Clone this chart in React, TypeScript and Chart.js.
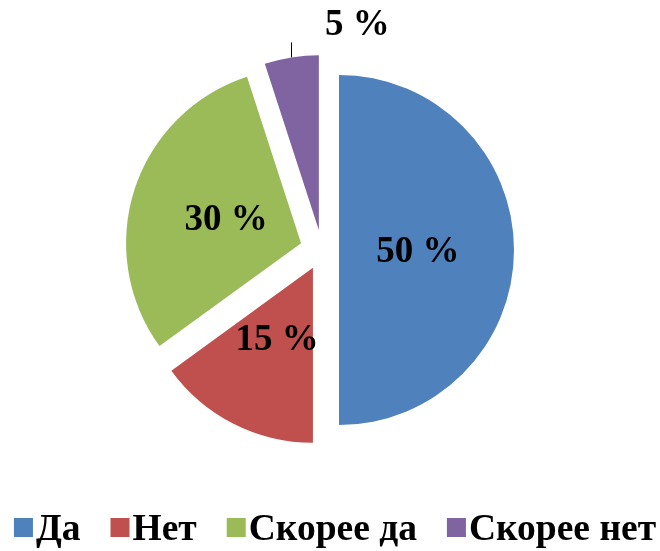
import React, { useEffect, useRef } from 'react';
import { Chart, registerables, PieController, ArcElement } from 'chart.js';

Chart.register(...registerables);

const categories = ['Да', 'Нет', 'Скорее да', 'Скорее нет'];
const values = [50, 15, 30, 5];
const valueLabels = ['50 %', '15 %', '30 %', '5 %'];
const colors = ['#4F81BD', '#C0504D', '#9BBB59', '#8064A2'];
const explode = [17, 20, 22, 20];

const FONT = '"Liberation Serif", "Times New Roman", serif';

class ExplodedArc extends ArcElement {
  static id = 'explodedArc';
  draw(ctx: CanvasRenderingContext2D) {
    const self: any = this;
    const opts = self.options;
    const d = (opts && opts.offset) || 0;
    const half = (self.startAngle + self.endAngle) / 2;
    ctx.save();
    ctx.translate(Math.cos(half) * d, Math.sin(half) * d);
    self.options = Object.assign({}, opts, { offset: 0 });
    super.draw(ctx);
    self.options = opts;
    ctx.restore();
  }
}

class ExplodedPieController extends PieController {
  static id = 'explodedPie';
  static defaults = { dataElementType: 'explodedArc' };
}

Chart.register(ExplodedArc as any, ExplodedPieController as any);

const labelPlugin = {
  id: 'sliceLabels',
  afterDatasetsDraw(chart: any) {
    const ctx = chart.ctx;
    const meta = chart.getDatasetMeta(0);
    ctx.save();
    ctx.font = `bold 37px ${FONT}`;
    ctx.fillStyle = '#000';
    ctx.textAlign = 'center';
    ctx.textBaseline = 'middle';
    meta.data.forEach((arc: any, i: number) => {
      const p = arc.getProps(['x', 'y', 'startAngle', 'endAngle', 'outerRadius'], true);
      const half = (p.startAngle + p.endAngle) / 2;
      const cx = Math.cos(half), cy = Math.sin(half);
      const d = explode[i];
      const vx = p.x + cx * d, vy = p.y + cy * d;
      if (values[i] < 10) {
        const mx = vx + cx * p.outerRadius, my = vy + cy * p.outerRadius;
        ctx.strokeStyle = '#000';
        ctx.lineWidth = 1;
        ctx.beginPath();
        ctx.moveTo(Math.round(mx) + 0.5, my);
        ctx.lineTo(Math.round(mx) + 0.5, my - 15);
        ctx.stroke();
        ctx.fillText(valueLabels[i], mx + 66, my - 32);
      } else {
        const r = p.outerRadius * 0.45;
        ctx.fillText(valueLabels[i], vx + cx * r, vy + cy * r + 2);
      }
    });
    ctx.restore();
  },
};

const legendPlugin = {
  id: 'bottomLegend',
  afterDraw(chart: any) {
    const ctx = chart.ctx;
    const labels: string[] = chart.data.labels;
    const bg: string[] = chart.data.datasets[0].backgroundColor;
    ctx.save();
    ctx.font = `bold 37.5px ${FONT}`;
    const box = 19, gap = 3, spacing = 30;
    const widths = labels.map((l) => ctx.measureText(l).width);
    const total = widths.reduce((a, w) => a + box + gap + w, 0) + spacing * (labels.length - 1);
    let x = 335 - total / 2;
    ctx.textAlign = 'left';
    ctx.textBaseline = 'alphabetic';
    labels.forEach((l, i) => {
      ctx.fillStyle = bg[i];
      ctx.fillRect(x, 518, box, box);
      ctx.fillStyle = '#000';
      ctx.fillText(l, x + box + gap, 540);
      x += box + gap + widths[i] + spacing;
    });
    ctx.restore();
  },
};

export default function App() {
  const ref = useRef<HTMLCanvasElement>(null);
  useEffect(() => {
    if (!ref.current) return;
    const chart = new Chart(ref.current, {
      type: 'explodedPie' as any,
      data: {
        labels: categories,
        datasets: [
          {
            data: values,
            backgroundColor: colors,
            borderWidth: 0,
            offset: explode,
            radius: 175,
            clip: false,
          } as any,
        ],
      },
      options: {
        responsive: false,
        animation: false,
        layout: { padding: { left: 0, right: 16, top: 0, bottom: 51 } },
        plugins: {
          legend: { display: false },
          tooltip: { enabled: false },
        },
      } as any,
      plugins: [labelPlugin, legendPlugin],
    });
    return () => chart.destroy();
  }, []);
  return (
    <div style={{ position: 'fixed', left: 0, top: 0, width: 660, height: 551, background: '#fff' }}>
      <canvas ref={ref} width={660} height={551} style={{ display: 'block' }} />
    </div>
  );
}
